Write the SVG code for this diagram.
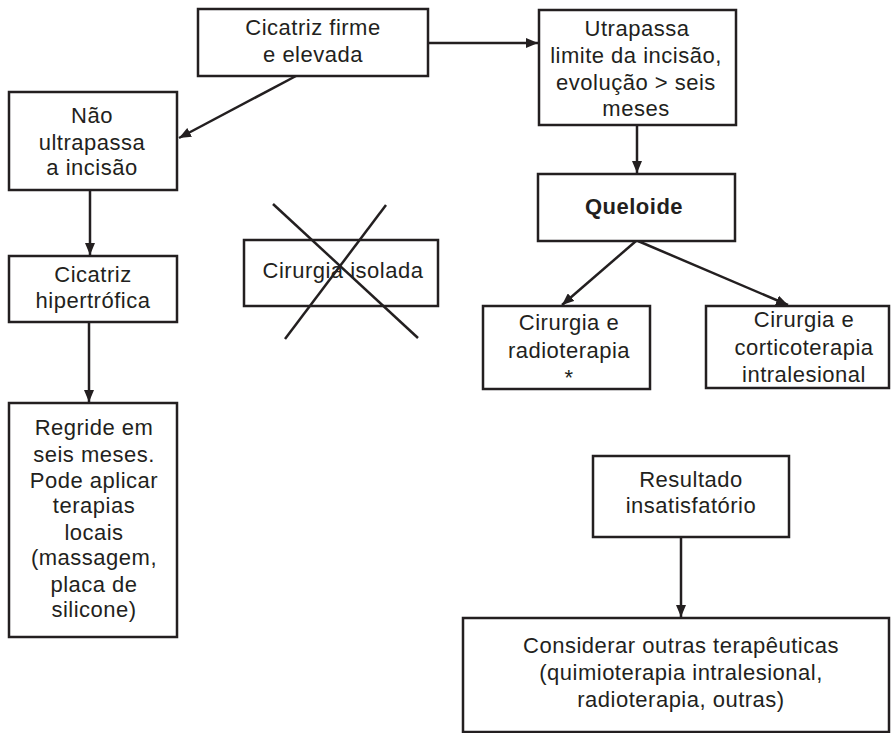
<svg xmlns="http://www.w3.org/2000/svg" width="891" height="733" viewBox="0 0 891 733">
<style>
.box{fill:#fff;stroke:#231f20;stroke-width:2.5}
.t{font-family:"Liberation Sans",Arial,sans-serif;font-size:22px;fill:#231f20;text-anchor:middle;letter-spacing:0.5px}
.b{font-weight:bold}
.c{stroke:#231f20;stroke-width:2.5;fill:none}
</style>
<defs>
<marker id="ah" markerUnits="userSpaceOnUse" markerWidth="12" markerHeight="10" refX="12" refY="5" orient="auto">
<path d="M0,0 L12,5 L0,10 z" fill="#231f20"/>
</marker>
</defs>
<rect width="891" height="733" fill="#fff"/>
<g id="connectors">
<line class="c" x1="428" y1="43" x2="538" y2="43" marker-end="url(#ah)"/>
<line class="c" x1="296" y1="76" x2="179" y2="138" marker-end="url(#ah)"/>
<line class="c" x1="637" y1="125" x2="637" y2="173" marker-end="url(#ah)"/>
<line class="c" x1="90" y1="190" x2="90" y2="255" marker-end="url(#ah)"/>
<line class="c" x1="636" y1="241" x2="562" y2="305" marker-end="url(#ah)"/>
<line class="c" x1="638" y1="241" x2="788" y2="305" marker-end="url(#ah)"/>
<line class="c" x1="89" y1="322" x2="89" y2="402" marker-end="url(#ah)"/>
<line class="c" x1="681" y1="537" x2="681" y2="617" marker-end="url(#ah)"/>
</g>
<g id="n1">
<rect class="box" x="198" y="9" width="230" height="67"/>
<text class="t" x="313" y="35">Cicatriz firme</text>
<text class="t" x="313" y="62">e elevada</text>
</g>
<g id="n2">
<rect class="box" x="539" y="10" width="197" height="115"/>
<text class="t" x="637" y="36">Utrapassa</text>
<text class="t" x="636" y="63">limite da incisão,</text>
<text class="t" x="636" y="90">evolução &gt; seis</text>
<text class="t" x="636" y="116">meses</text>
</g>
<g id="n3">
<rect class="box" x="9" y="92" width="168" height="98"/>
<text class="t" x="92" y="123">Não</text>
<text class="t" x="92" y="150">ultrapassa</text>
<text class="t" x="92" y="175">a incisão</text>
</g>
<g id="n4">
<rect class="box" x="538" y="174" width="197" height="67"/>
<text class="t b" x="634" y="214">Queloide</text>
</g>
<g id="n5">
<rect class="box" x="9" y="256" width="168" height="66"/>
<text class="t" x="93" y="282">Cicatriz</text>
<text class="t" x="93" y="308">hipertrófica</text>
</g>
<g id="n6">
<rect class="box" x="244" y="240" width="194" height="66"/>
<text class="t" x="343" y="278">Cirurgia isolada</text>
<line class="c" x1="273" y1="204" x2="418" y2="338"/>
<line class="c" x1="386" y1="205" x2="285" y2="339"/>
</g>
<g id="n7">
<rect class="box" x="483" y="306" width="167" height="83"/>
<text class="t" x="569" y="330">Cirurgia e</text>
<text class="t" x="569" y="358">radioterapia</text>
<text class="t" x="569" y="385">*</text>
</g>
<g id="n8">
<rect class="box" x="706" y="306" width="183" height="82"/>
<text class="t" x="804" y="327">Cirurgia e</text>
<text class="t" x="804" y="355">corticoterapia</text>
<text class="t" x="804" y="382">intralesional</text>
</g>
<g id="n9">
<rect class="box" x="9" y="403" width="168" height="234"/>
<text class="t" x="94" y="435">Regride em</text>
<text class="t" x="94" y="462">seis meses.</text>
<text class="t" x="94" y="488">Pode aplicar</text>
<text class="t" x="94" y="513">terapias</text>
<text class="t" x="94" y="540">locais</text>
<text class="t" x="94" y="565">(massagem,</text>
<text class="t" x="94" y="592">placa de</text>
<text class="t" x="94" y="617">silicone)</text>
</g>
<g id="n10">
<rect class="box" x="593" y="456" width="196" height="81"/>
<text class="t" x="691" y="487">Resultado</text>
<text class="t" x="691" y="513">insatisfatório</text>
</g>
<g id="n11">
<rect class="box" x="463" y="618" width="426" height="114"/>
<text class="t" x="681" y="653">Considerar outras terapêuticas</text>
<text class="t" x="681" y="680">(quimioterapia intralesional,</text>
<text class="t" x="681" y="707">radioterapia, outras)</text>
</g>
</svg>
